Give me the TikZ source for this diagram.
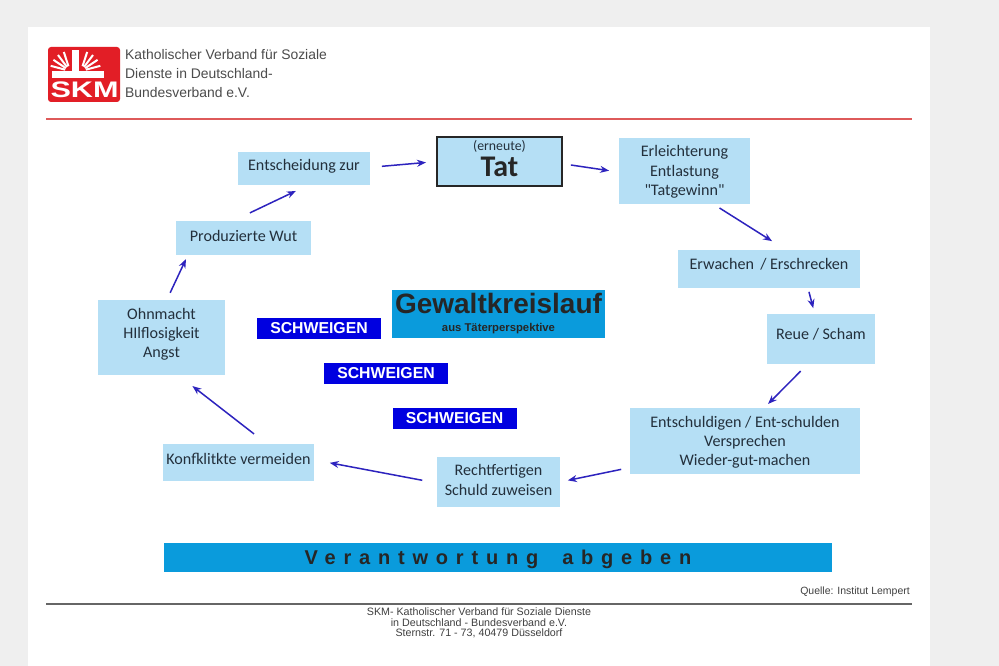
\documentclass[tikz,border=0pt]{standalone}
\usepackage{fontspec}
\setmainfont{Liberation Sans}
\newfontfamily\boxfont{Carlito}
\newfontfamily\spacedfont[LetterSpace=39]{Liberation Sans}
\definecolor{skmred}{RGB}{226,30,38}
\definecolor{skmline}{RGB}{222,90,90}
\definecolor{pagegray}{RGB}{239,239,239}
\definecolor{boxblue}{RGB}{181,223,245}
\definecolor{bandblue}{RGB}{10,155,220}
\definecolor{silentblue}{RGB}{0,0,224}
\definecolor{arrowblue}{RGB}{45,35,190}
\definecolor{textdark}{RGB}{35,48,60}
\usetikzlibrary{arrows.meta,positioning}
\newcommand{\fsz}[1]{\fontsize{#1}{#1}\selectfont}
\tikzset{
  cyclebox/.style={fill=boxblue,inner sep=0pt,outer sep=0pt,align=center,text=textdark,font=\boxfont\fontsize{16.1}{19.2}\selectfont},
  silentbox/.style={fill=silentblue,text=white,inner sep=0pt,outer sep=0pt,minimum width=124pt,minimum height=21pt,font=\fsz{15.8}\bfseries},
  flow/.style={-{Stealth[length=9pt,width=7pt]},line width=1.5pt,arrowblue},
  smalltext/.style={inner sep=0pt,text=black!75,align=center}
}
\begin{document}
\begin{tikzpicture}[x=1pt,y=-1pt]
  % Page
  \fill[pagegray] (0,0) rectangle (999,666);
  \fill[white] (28,27) rectangle (930,666);

  % Logo
  \node[fill=skmred,rounded corners=3pt,inner sep=0pt,minimum width=72pt,minimum height=55pt] (logo) at (84,74.5) {};
  \fill[white] (71.5,50) rectangle (79,78);
  \fill[white] (52,71) rectangle (104,78);
  \foreach \a in {108,127,146,165}{
    \draw[white,line width=2pt] (70,71) ++(\a:5pt) -- ++(\a:15pt);
  }
  \foreach \a in {72,53,34,15}{
    \draw[white,line width=2pt] (81,71) ++(\a:5pt) -- ++(\a:15pt);
  }
  \node[font=\fsz{22.5}\bfseries,text=white,xscale=1.36,inner sep=0pt] (skm) at (84.5,90) {SKM};

  % Header
  \node[font=\fsz{13.9},text=black!70,align=left,anchor=west,inner sep=0pt] (verband) at (125,73.5) {Katholischer Verband für Soziale\\[5.3pt]Dienste in Deutschland-\\[5.3pt]Bundesverband e.V.};
  \coordinate (rl) at (46,119);
  \coordinate (rr) at (912,119);
  \draw[skmline,line width=1.5pt] (rl) -- (rr);

  % Cycle
  \node[cyclebox,text depth=8pt,minimum width=132pt,minimum height=33pt] (entsch) at (304,168.5) {Entscheidung zur};
  \node[cyclebox,text depth=6pt,draw=black!85,line width=2pt,minimum width=125pt,minimum height=49pt] (tat) at (499.5,161.5) {{\fontsize{13.8}{14}\selectfont(erneute)}\\[3pt]{\fontsize{30}{24}\selectfont\bfseries\color{black!85}Tat}};
  \node[cyclebox,text depth=1pt,minimum width=131pt,minimum height=66pt] (erl) at (684.5,171) {Erleichterung\\Entlastung\\"Tatgewinn"};
  \node[cyclebox,text depth=10pt,minimum width=182pt,minimum height=38pt] (erwachen) at (769,269) {Erwachen\, / Erschrecken};
  \node[cyclebox,text depth=10pt,minimum width=108pt,minimum height=50pt] (reue) at (821,339) {Reue / Scham};
  \node[cyclebox,text depth=0pt,minimum width=230pt,minimum height=66pt] (entschuld) at (745,441) {Entschuldigen / Ent-schulden\\Versprechen\\Wieder-gut-machen};
  \node[cyclebox,text depth=4pt,minimum width=123pt,minimum height=50pt] (recht) at (498.5,482) {Rechtfertigen\\Schuld zuweisen};
  \node[cyclebox,text depth=7pt,minimum width=151pt,minimum height=37pt] (konf) at (238.5,462.5) {Konfklitkte vermeiden};
  \node[cyclebox,text depth=9.5pt,minimum width=127pt,minimum height=75pt] (ohn) at (161.5,337.5) {Ohnmacht\\HIlflosigkeit\\Angst};
  \node[cyclebox,text depth=4pt,minimum width=135pt,minimum height=34pt] (wut) at (243.5,238) {Produzierte Wut};

  % Arrows
  \draw[flow,shorten <=18.8pt,shorten >=13.9pt] (wut.122) -- (entsch.285);
  \draw[flow,shorten <=12pt,shorten >=11pt] (entsch.1) -- (tat.west);
  \draw[flow,shorten <=9pt,shorten >=10pt] (tat.358) -- (erl.181.4);
  \draw[flow,shorten <=7.5pt,shorten >=16.6pt] (erl.311.5) -- (erwachen.48);
  \draw[flow,shorten <=4pt,shorten >=6pt] (erwachen.334) -- (reue.104.6);
  \draw[flow,shorten <=10pt,shorten >=5.7pt] (reue.242.5) -- (entschuld.60);
  \draw[flow,shorten <=9pt,shorten >=8pt] (entschuld.193.4) -- (recht.0.5);
  \draw[flow,shorten <=15pt,shorten >=16pt] (recht.181.9) -- (konf.2);
  \draw[flow,shorten <=16.4pt,shorten >=18pt] (konf.33) -- (ohn.294);
  \draw[flow,shorten <=8pt,shorten >=4.5pt] (ohn.82.7) -- (wut.197.6);

  % Centre
  \node[fill=bandblue,inner sep=0pt,minimum width=213pt,minimum height=48pt,align=center,text=black!85] (titel) at (498.5,314) {{\fsz{28}\bfseries Gewaltkreislauf}\\[6pt]{\fsz{11.3}\bfseries aus Täterperspektive}};
  \node[silentbox] (schw1) at (319,328.5) {SCHWEIGEN};
  \node[silentbox] (schw2) at (386,373.5) {SCHWEIGEN};
  \node[silentbox] (schw3) at (454.5,418.5) {SCHWEIGEN};

  % Bottom
  \node[fill=bandblue,inner sep=0pt,minimum width=668pt,minimum height=29pt,text=black!85,text depth=0pt] (verantw) at (498,557.5) {\spacedfont\fsz{20}\bfseries Verantwortung\hspace{1.2em}abgeben};
  \node[smalltext,font=\fsz{10.5},anchor=east] (quelle) at (910,592) {Quelle: Institut Lempert};
  \coordinate (gl) at (46,604);
  \coordinate (gr) at (912,604);
  \draw[black!60,line width=1.5pt] (gl) -- (gr);
  \node[smalltext,font=\fontsize{10.7}{10.5}\selectfont] (adresse) at (479,623) {SKM- Katholischer Verband für Soziale Dienste\\in Deutschland - Bundesverband e.V.\\Sternstr. 71 - 73, 40479 Düsseldorf};
\end{tikzpicture}
\end{document}
